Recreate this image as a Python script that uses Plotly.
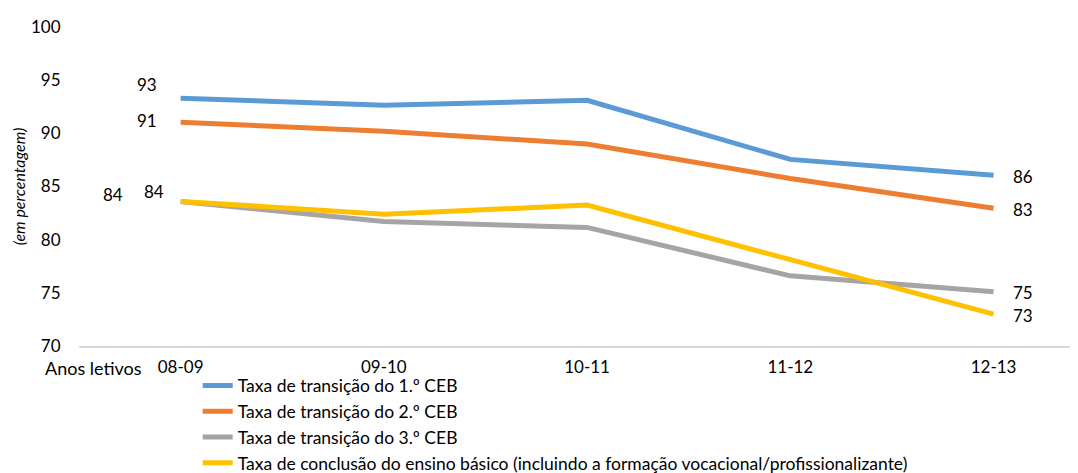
import plotly.graph_objects as go

categories = ["08-09", "09-10", "10-11", "11-12", "12-13"]
series_names = [
    "Taxa de transição do 1.º CEB",
    "Taxa de transição do 2.º CEB",
    "Taxa de transição do 3.º CEB",
    "Taxa de conclusão do ensino básico (incluindo a formação vocacional/profissionalizante)",
]
ceb1 = [93.3, 92.65, 93.1, 87.55, 86.05]
ceb2 = [91.05, 90.2, 89.0, 85.75, 82.95]
ceb3 = [83.6, 81.7, 81.15, 76.6, 75.1]
conclusao = [83.6, 82.4, 83.25, 78.1, 73.0]
colors = ["#5B9BD5", "#ED7D31", "#A5A5A5", "#FFC000"]
y_ticks = [70, 75, 80, 85, 90, 95, 100]

FONT = "Lato"
fig = go.Figure()
for name, vals, col in zip(series_names, [ceb1, ceb2, ceb3, conclusao], colors):
    fig.add_trace(go.Scatter(x=categories, y=vals, name=name, mode="lines",
                             line=dict(color=col, width=5)))

# value labels: (series, index, xshift, yshift)
label_specs = [
    (ceb1, 0, -34, 14), (ceb2, 0, -34, 2), (ceb3, 0, -68, 7), (conclusao, 0, -27, 10),
    (ceb1, 4, 29, -1), (ceb2, 4, 29, -1), (ceb3, 4, 29, -1), (conclusao, 4, 29, -1),
]
for vals, i, xs, ys in label_specs:
    fig.add_annotation(x=categories[i], y=vals[i], text=f"{round(vals[i])}",
                       showarrow=False, xshift=xs, yshift=ys,
                       font=dict(family=FONT, size=17, color="#000"))

fig.add_annotation(xref="paper", yref="paper", x=-0.036, y=-0.069, text="Anos letivos",
                   showarrow=False, xanchor="left", yanchor="middle",
                   font=dict(family=FONT, size=18, color="#000"))

# page body has an 8px margin: offset margins so the plot lands where the reference has it
fig.update_layout(
    width=1078, height=473,
    margin=dict(l=71, r=1, t=19, b=135, autoexpand=False),
    paper_bgcolor="white", plot_bgcolor="white",
    font=dict(family=FONT, size=17, color="#000"),
    showlegend=True,
    legend=dict(orientation="v", x=0.118, xanchor="left", y=-0.068, yanchor="top",
                font=dict(family=FONT, size=17.5, color="#000"),
                tracegroupgap=0, itemwidth=30, bgcolor="rgba(0,0,0,0)"),
    xaxis=dict(type="category", range=[-0.5, 4.45], showgrid=False, zeroline=False,
               showline=True, linecolor="#D9D9D9", linewidth=2,
               ticks="outside", ticklen=5, tickcolor="rgba(0,0,0,0)",
               tickfont=dict(family=FONT, size=17, color="#000")),
    yaxis=dict(range=[70, 100], tickvals=y_ticks, showgrid=False, zeroline=False,
               showline=False, ticks="outside", ticklen=14, tickcolor="rgba(0,0,0,0)",
               tickfont=dict(family=FONT, size=17, color="#000"),
               title=dict(text="<i>(em percentagem)</i>", standoff=1,
                          font=dict(family=FONT, size=16, color="#000"))),
)
fig.write_html("out.html")
